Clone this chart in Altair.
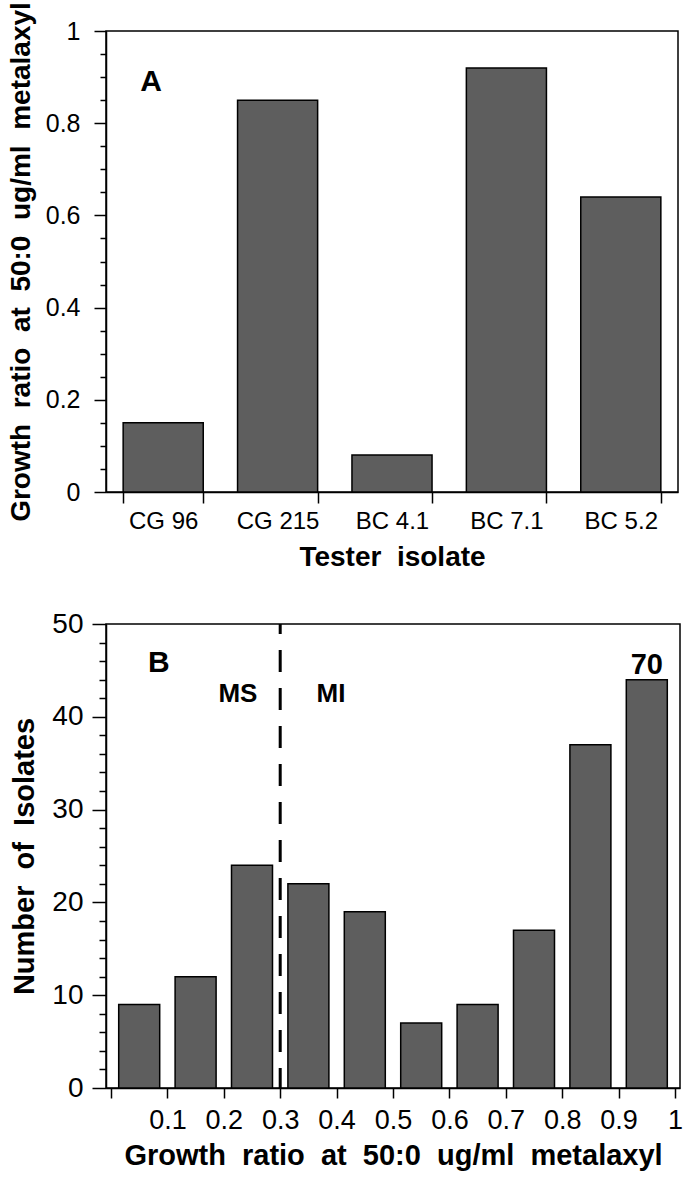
import altair as alt
import pandas as pd

FONT = "Liberation Sans"
BAR_FILL = "#5e5e5e"

# Panel A: growth ratio of the tester isolates
isolates = ["CG 96", "CG 215", "BC 4.1", "BC 7.1", "BC 5.2"]
ratios = [0.15, 0.85, 0.08, 0.92, 0.64]

# Panel B: distribution of field isolates over growth-ratio classes
class_mid = [0.05, 0.15, 0.25, 0.35, 0.45, 0.55, 0.65, 0.75, 0.85, 0.95]
counts = [9, 12, 24, 22, 19, 7, 9, 17, 37, 70]
break_at = 44          # taller bars are cut here and carry their count as a label
ms_mi_cutoff = 0.3     # boundary between sensitive (MS) and insensitive (MI)

# axis tick positions (minor + major)
ratio_ticks = [0, 0.05, 0.1, 0.15, 0.2, 0.25, 0.3, 0.35, 0.4, 0.45, 0.5,
               0.55, 0.6, 0.65, 0.7, 0.75, 0.8, 0.85, 0.9, 0.95, 1]
count_ticks = [0, 2, 4, 6, 8, 10, 12, 14, 16, 18, 20, 22, 24, 26, 28, 30,
               32, 34, 36, 38, 40, 42, 44, 46, 48, 50]
class_ticks = [0, 0.1, 0.2, 0.3, 0.4, 0.5, 0.6, 0.7, 0.8, 0.9, 1]

SP = "\u00a0 "  # wide word gap used in the axis titles
ratio_title = SP.join(["Growth", "ratio", "at", "50:0", "ug/ml", "metalaxyl"])

one_row = alt.Data(values=[{}])

# ---------------- Panel A ----------------
a_df = pd.DataFrame({"isolate": isolates, "ratio": ratios})

major_a = "abs(round(datum.value*5) - datum.value*5) < 1e-6"
ya_scale = alt.Scale(domain=[0, 1], nice=False, zero=True)
ya_axis = alt.Axis(
    title=ratio_title,
    values=ratio_ticks,
    labelExpr=f"{major_a} ? format(datum.value, '~g') : ''",
    tickSize={"condition": {"test": major_a, "value": 12}, "value": 6},
    labelFontSize=25,
    labelPadding=14,
    labelOverlap=False,
    titleFontSize=28,
    titlePadding=10,
)
xa = alt.X(
    "isolate:N",
    sort=isolates,
    scale=alt.Scale(paddingInner=0.3, paddingOuter=0.15),
    axis=alt.Axis(
        title="Tester" + SP + "isolate",
        tickBand="extent",
        labelAngle=0,
        tickSize=11,
        labelFontSize=24,
        labelPadding=6,
        titleFontSize=28,
        titlePadding=10,
    ),
)

bars_a = alt.Chart(a_df).mark_bar(
    fill=BAR_FILL, stroke="black", strokeWidth=1.5
).encode(x=xa, y=alt.Y("ratio:Q", scale=ya_scale, axis=ya_axis))

letter_a = alt.Chart(one_row).mark_text(
    text="A", font=FONT, fontSize=30, fontWeight="bold", align="center", baseline="middle"
).encode(x=alt.value(45), y=alt.YDatum(0.89, scale=ya_scale, axis=ya_axis))

panel_a = alt.layer(bars_a, letter_a).properties(width=572, height=461)

# ---------------- Panel B ----------------
b_df = pd.DataFrame({"mid": class_mid, "count": counts})

major_b = "abs(round(datum.value/10) - datum.value/10) < 1e-6"
xb_scale = alt.Scale(domain=[0, 1], nice=False, zero=True)
yb_scale = alt.Scale(domain=[0, 50], nice=False, zero=True)

xb_axis = alt.Axis(
    title=ratio_title,
    values=class_ticks,
    labelExpr="datum.value == 0 ? '' : format(datum.value, '.1~f')",
    tickSize=10,
    labelFontSize=27,
    labelPadding=9,
    labelFlush=False,
    labelOverlap=False,
    titleFontSize=29,
    titlePadding=8,
)
yb_axis = alt.Axis(
    title=SP.join(["Number", "of", "Isolates"]),
    values=count_ticks,
    labelExpr=f"{major_b} ? format(datum.value, 'd') : ''",
    tickSize={"condition": {"test": major_b, "value": 14}, "value": 7},
    labelFontSize=28,
    labelPadding=9,
    labelOverlap=False,
    titleFontSize=29,
    titlePadding=12,
)

base_b = alt.Chart(b_df).transform_calculate(shown=f"min(datum.count, {break_at})")

bars_b = base_b.mark_bar(
    size=41, fill=BAR_FILL, stroke="black", strokeWidth=1.5
).encode(
    x=alt.X("mid:Q", scale=xb_scale, axis=xb_axis),
    y=alt.Y("shown:Q", scale=yb_scale, axis=yb_axis),
)

cut_label = base_b.transform_filter(f"datum.count > {break_at}").mark_text(
    font=FONT, fontSize=29, fontWeight="bold", baseline="alphabetic", dy=-6
).encode(
    x=alt.X("mid:Q", scale=xb_scale, axis=xb_axis),
    y=alt.Y("shown:Q", scale=yb_scale, axis=yb_axis),
    text="count:Q",
)

cutoff = alt.Chart(one_row).mark_rule(
    color="black", strokeWidth=3, strokeDash=[22, 16], strokeDashOffset=12
).encode(x=alt.XDatum(ms_mi_cutoff, scale=xb_scale, axis=xb_axis))


def tag(text, x, y, size):
    return alt.Chart(one_row).mark_text(
        text=text, font=FONT, fontSize=size, fontWeight="bold",
        align="center", baseline="middle"
    ).encode(
        x=alt.XDatum(x, scale=xb_scale, axis=xb_axis),
        y=alt.YDatum(y, scale=yb_scale, axis=yb_axis),
    )


panel_b = alt.layer(
    bars_b,
    cutoff,
    cut_label,
    tag("B", 0.085, 45.8, 30),
    tag("MS", 0.225, 42.5, 26),
    tag("MI", 0.39, 42.5, 26),
).properties(width=574, height=464)

chart = (
    alt.vconcat(panel_a, panel_b, spacing=132, bounds="flush")
    .properties(padding={"left": 6, "top": 0, "right": 0, "bottom": 0})
    .configure_view(stroke="black", strokeWidth=1.5)
    .configure_axis(
        domainColor="black",
        domainWidth=1.5,
        tickColor="black",
        tickWidth=1.5,
        labelColor="black",
        titleColor="black",
        labelFont=FONT,
        titleFont=FONT,
        titleFontWeight="bold",
        grid=False,
    )
)

chart.save("out.html", embed_options={"renderer": "svg", "actions": False})
